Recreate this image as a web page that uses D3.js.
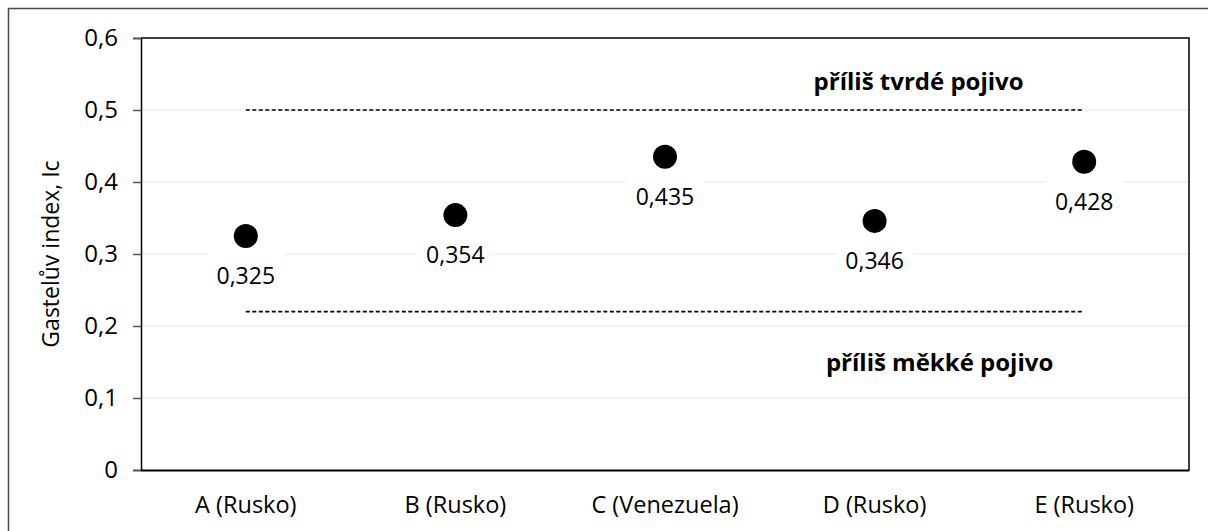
<!DOCTYPE html>
<html>
<head>
<meta charset="utf-8">
<script src="https://cdn.jsdelivr.net/npm/d3@7"></script>
<style>
  body { margin: 0; background: #fff; }
  svg { display: block; font-family: "Open Sans", sans-serif; }
</style>
</head>
<body>
<div id="chart"></div>
<script>
var categories = ["A (Rusko)", "B (Rusko)", "C (Venezuela)", "D (Rusko)", "E (Rusko)"];
var values = [0.325, 0.354, 0.435, 0.346, 0.428];
var yTicks = [0, 0.1, 0.2, 0.3, 0.4, 0.5, 0.6];
var limits = [0.5, 0.22];
var notes = ["příliš tvrdé pojivo", "příliš měkké pojivo"];

var width = 1208, height = 531;
var margin = {top: 38, right: 19, bottom: 61, left: 141};
var font = "'Open Sans', sans-serif";

var svg = d3.select("#chart").append("svg")
  .attr("width", width)
  .attr("height", height);

// outer frame
svg.append("rect")
  .attr("x", 8.5).attr("y", 8.5)
  .attr("width", width + 10).attr("height", height + 10)
  .attr("fill", "none")
  .attr("stroke", "#4a4a4a")
  .attr("stroke-width", 1.5);

var x = d3.scaleBand().domain(categories).range([margin.left, width - margin.right]);
var y = d3.scaleLinear().domain([0, 0.6]).range([height - margin.bottom, margin.top]);
var cx = function (d) { return x(d) + x.bandwidth() / 2; };

// gridlines
svg.append("g").selectAll("line")
  .data(yTicks.filter(function (d) { return d > 0 && d < 0.6; }))
  .join("line")
  .attr("x1", margin.left).attr("x2", width - margin.right)
  .attr("y1", function (d) { return y(d); })
  .attr("y2", function (d) { return y(d); })
  .attr("stroke", "#efefef")
  .attr("stroke-width", 1.5);

// y axis
var yAxis = svg.append("g")
  .attr("transform", "translate(" + margin.left + ",0)")
  .call(d3.axisLeft(y).tickValues(yTicks).tickSize(8).tickPadding(15)
    .tickFormat(function (d) { return d === 0 ? "0" : d3.format(".1f")(d).replace(".", ","); }))
  .attr("font-family", font)
  .attr("font-size", 24);
yAxis.select(".domain").attr("stroke", "#000").attr("stroke-width", 1.5);
yAxis.selectAll(".tick line").attr("stroke", "#595959").attr("stroke-width", 1.5);
yAxis.selectAll(".tick text").attr("fill", "#000");

// plot frame top/right
svg.append("path")
  .attr("d", "M" + margin.left + "," + y(0.6) + "H" + (width - margin.right) + "V" + y(0))
  .attr("fill", "none")
  .attr("stroke", "#000")
  .attr("stroke-width", 1.5);

// x axis
var xAxis = svg.append("g")
  .attr("transform", "translate(0," + y(0) + ")")
  .call(d3.axisBottom(x).tickSize(0).tickPadding(26))
  .attr("font-family", font)
  .attr("font-size", 23.5);
xAxis.select(".domain").attr("stroke", "#000").attr("stroke-width", 2);
xAxis.selectAll(".tick text").attr("fill", "#000");

// y title
svg.append("text")
  .attr("transform", "translate(59," + ((y(0) + y(0.6)) / 2) + ") rotate(-90)")
  .attr("text-anchor", "middle")
  .style("font-size", "23px")
  .text("Gastelův index, Ic");

// limit lines
svg.append("g").selectAll("line")
  .data(limits)
  .join("line")
  .attr("x1", cx(categories[0]))
  .attr("x2", cx(categories[categories.length - 1]))
  .attr("y1", function (d) { return y(d); })
  .attr("y2", function (d) { return y(d); })
  .attr("stroke", "#000")
  .attr("stroke-width", 1.6)
  .attr("stroke-dasharray", "4,2.5");

// annotations
svg.append("text")
  .attr("x", margin.left + 0.742 * (width - margin.left - margin.right))
  .attr("y", y(0.528))
  .attr("text-anchor", "middle")
  .style("font-size", "24px")
  .style("font-weight", "bold")
  .text(notes[0]);
svg.append("text")
  .attr("x", margin.left + 0.762 * (width - margin.left - margin.right))
  .attr("y", y(0.1375))
  .attr("text-anchor", "middle")
  .style("font-size", "24px")
  .style("font-weight", "bold")
  .text(notes[1]);

var pts = categories.map(function (c, i) { return {cat: c, val: values[i]}; });

// label backgrounds
svg.append("g").selectAll("rect")
  .data(pts)
  .join("rect")
  .attr("x", function (d) { return cx(d.cat) - 38; })
  .attr("y", function (d) { return y(d.val) + 16; })
  .attr("width", 77)
  .attr("height", 44)
  .attr("fill", "#fff");

// points
svg.append("g").selectAll("circle")
  .data(pts)
  .join("circle")
  .attr("cx", function (d) { return cx(d.cat); })
  .attr("cy", function (d) { return y(d.val); })
  .attr("r", 12)
  .attr("fill", "#000");

// data labels
svg.append("g").selectAll("text")
  .data(pts)
  .join("text")
  .attr("x", function (d) { return cx(d.cat); })
  .attr("y", function (d) { return y(d.val) + 48; })
  .attr("text-anchor", "middle")
  .style("font-size", "23px")
  .text(function (d) { return d3.format(".3f")(d.val).replace(".", ","); });
</script>
</body>
</html>
